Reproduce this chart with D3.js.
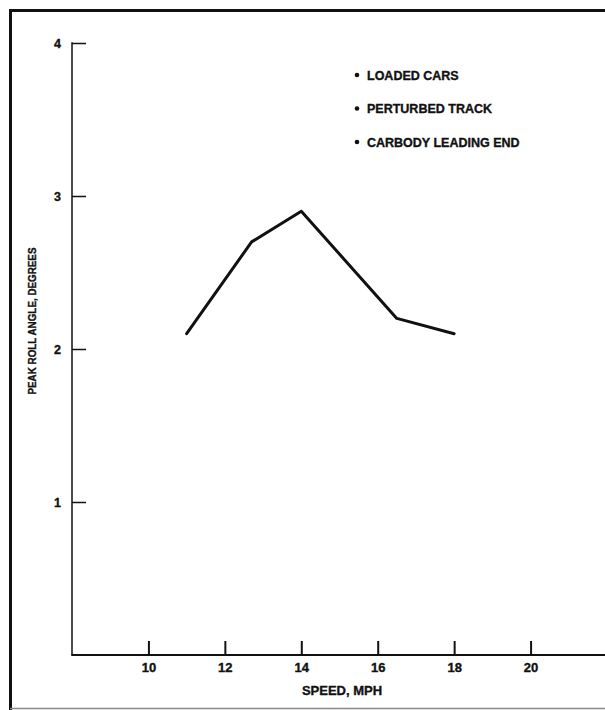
<!DOCTYPE html>
<html>
<head>
<meta charset="utf-8">
<script src="https://d3js.org/d3.v7.min.js"></script>
<style>
  body { margin: 0; background: #fff; }
  svg { display: block; }
  text { font-family: "Liberation Sans", Arial, sans-serif; font-weight: bold; fill: #111; stroke: #111; stroke-width: 0.35; }
</style>
</head>
<body>
<svg width="605" height="710"></svg>
<script>
var speeds = [11, 12.7, 14, 16.5, 18];
var rollAngles = [2.1, 2.7, 2.9, 2.2, 2.1];
var xTicks = [10, 12, 14, 16, 18, 20];
var yTicks = [1, 2, 3, 4];
var legendItems = ["LOADED CARS", "PERTURBED TRACK", "CARBODY LEADING END"];

var svg = d3.select("svg");

// page frame (scanned page border)
svg.append("line").attr("x1", 10.5).attr("y1", 9).attr("x2", 10.5).attr("y2", 710)
  .attr("stroke", "#111").attr("stroke-width", 3);
svg.append("line").attr("x1", 9).attr("y1", 10.5).attr("x2", 605).attr("y2", 10.5)
  .attr("stroke", "#111").attr("stroke-width", 3);
svg.append("line").attr("x1", 10).attr("y1", 708.5).attr("x2", 605).attr("y2", 708.5)
  .attr("stroke", "#888").attr("stroke-width", 1.5);

var x = d3.scaleLinear().domain([8, 22]).range([72, 607]);
var y = d3.scaleLinear().domain([0, 4]).range([655, 43]);

// y axis, ticks pointing inward
var yAxis = svg.append("g").attr("transform", "translate(72,0)")
  .call(d3.axisRight(y).tickValues(yTicks).tickSize(14).tickFormat(d3.format("d")));
yAxis.select(".domain").remove();
yAxis.selectAll(".tick line").attr("stroke", "#111").attr("stroke-width", 1.5);
yAxis.selectAll(".tick text").attr("x", -11).attr("text-anchor", "end")
  .attr("font-size", 12.5).attr("font-family", null).attr("fill", null);
svg.append("line").attr("x1", 72).attr("y1", y(4) - 0.75).attr("x2", 72).attr("y2", y(0))
  .attr("stroke", "#111").attr("stroke-width", 1.5);

// x axis, ticks pointing up
var xAxis = svg.append("g").attr("transform", "translate(0,655)")
  .call(d3.axisTop(x).tickValues(xTicks).tickSize(14).tickFormat(d3.format("d")));
xAxis.select(".domain").remove();
xAxis.selectAll(".tick line").attr("stroke", "#111").attr("stroke-width", 2);
xAxis.selectAll(".tick text").attr("y", 8).attr("dy", "0.71em")
  .attr("font-size", 13).attr("font-family", null).attr("fill", null);
svg.append("line").attr("x1", 71.25).attr("y1", 655).attr("x2", 605).attr("y2", 655)
  .attr("stroke", "#111").attr("stroke-width", 2);

// axis titles
svg.append("text").attr("x", 342).attr("y", 695).attr("text-anchor", "middle")
  .attr("font-size", 13).text("SPEED, MPH");
svg.append("text").attr("transform", "translate(36,321) rotate(-90)")
  .attr("text-anchor", "middle").attr("font-size", 11.5)
  .attr("textLength", 147).attr("lengthAdjust", "spacingAndGlyphs")
  .text("PEAK ROLL ANGLE, DEGREES");

// data line
var line = d3.line().x(function(d) { return x(d[0]); }).y(function(d) { return y(d[1]); });
svg.append("path").datum(d3.zip(speeds, rollAngles))
  .attr("d", line).attr("fill", "none").attr("stroke", "#111")
  .attr("stroke-width", 3).attr("stroke-linejoin", "round").attr("stroke-linecap", "round");

// legend notes
var legend = svg.selectAll(".note").data(legendItems).enter().append("g")
  .attr("class", "note")
  .attr("transform", function(d, i) { return "translate(357," + (75 + i * 33.5) + ")"; });
legend.append("circle").attr("r", 2.3).attr("fill", "#111");
legend.append("text").attr("x", 10).attr("dy", "0.36em").attr("font-size", 12.5).text(function(d) { return d; });
</script>
</body>
</html>
